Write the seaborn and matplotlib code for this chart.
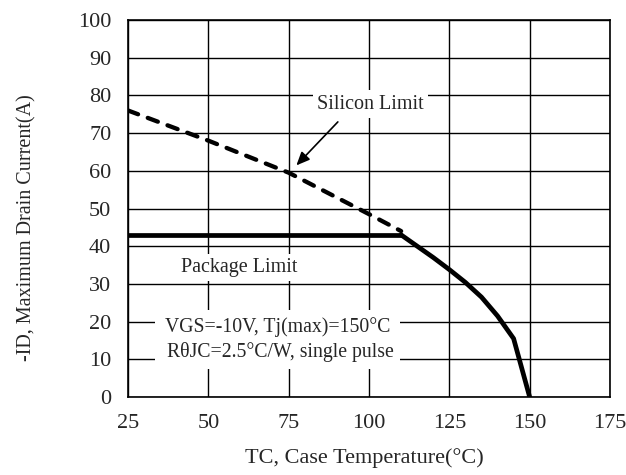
import matplotlib
matplotlib.use("Agg")
import matplotlib.pyplot as plt
import seaborn as sns
import pandas as pd

# Data
silicon_tc = [25, 50, 75, 100, 110]
silicon_id = [76, 68, 59.5, 48.5, 44]
package_tc = [25, 110]
package_id = [43, 43]
derate_tc = [110, 120, 125, 130, 135, 140, 145, 150]
derate_id = [43, 37, 33.8, 30.4, 26.5, 21.5, 15.5, 0]
x_ticks = [25, 50, 75, 100, 125, 150, 175]
y_ticks = [0, 10, 20, 30, 40, 50, 60, 70, 80, 90, 100]

sns.set_style("white")
plt.rcParams['font.family'] = ['Liberation Serif', 'DejaVu Serif']

fig = plt.figure(figsize=(6.26, 4.75), dpi=100)
ax = fig.add_axes([128/626, 78/475, 482/626, 377/475])

sil = pd.DataFrame({"tc": silicon_tc, "id": silicon_id})
pkg = pd.DataFrame({"tc": package_tc, "id": package_id})
der = pd.DataFrame({"tc": derate_tc, "id": derate_id})

sns.lineplot(data=sil, x="tc", y="id", ax=ax, color="black", lw=3.1,
             linestyle=(0, (2.5, 2.4)), zorder=4, dash_capstyle="round")
sns.lineplot(data=pkg, x="tc", y="id", ax=ax, color="black", lw=3.4, zorder=4)
sns.lineplot(data=der, x="tc", y="id", ax=ax, color="black", lw=3.4, zorder=4)

ax.set_xlim(25, 175)
ax.set_ylim(0, 100)
ax.set_xticks(x_ticks)
ax.set_yticks(y_ticks)
ax.set_xticklabels([str(v) for v in x_ticks])
ax.set_yticklabels([str(v) for v in y_ticks])
ax.grid(True, color="black", lw=1.0)
ax.set_axisbelow(True)
for s in ax.spines.values():
    s.set_color("black")
    s.set_linewidth(1.2)
ax.tick_params(length=0, labelsize=16)
ax.tick_params(axis="x", pad=12)
ax.tick_params(axis="y", pad=12)

ax.set_xlabel("TC, Case Temperature(°C)", fontsize=16)
ax.xaxis.set_label_coords(0.49, -0.135)
ax.set_ylabel("-ID, Maximum Drain Current(A)", fontsize=14.5)
ax.yaxis.set_label_coords(-0.19, 0.45)

bbox = dict(facecolor="white", edgecolor="none", pad=3)
ax.text(100.5, 77.7, "Silicon Limit", fontsize=14.5, ha="center", va="center",
        bbox=bbox, zorder=3)
ax.annotate("", xy=(76.8, 60.9), xytext=(90.9, 73.5),
            arrowprops=dict(arrowstyle="-|>,head_length=0.8,head_width=0.35",
                            color="black", lw=1.2), zorder=5)
ax.text(59.7, 34.3, "Package Limit", fontsize=14.5, ha="center", va="center",
        bbox=bbox, zorder=3)
ax.text(71.5, 15.3, "VGS=-10V, Tj(max)=150°C\n RθJC=2.5°C/W, single pulse",
        fontsize=14.2, ha="center", va="center", linespacing=1.35,
        bbox=dict(facecolor="white", edgecolor="none", pad=5), zorder=3)

fig.savefig("out.png", dpi=100)
